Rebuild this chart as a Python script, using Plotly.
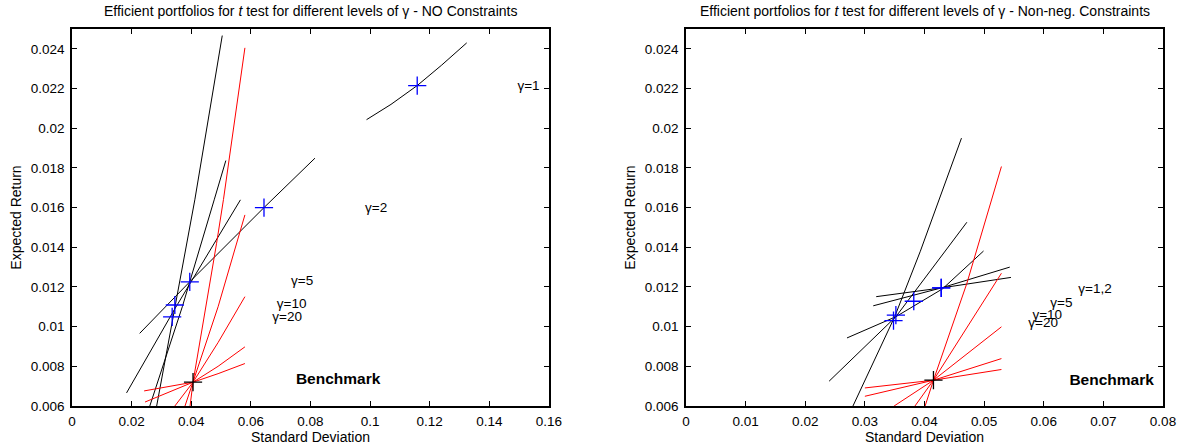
import plotly.graph_objects as go
from plotly.subplots import make_subplots

# ---------------- Left panel: NO constraints ----------------
# black frontier segments (sigma, mu)
L_black_g1_x = [0.0988, 0.1070, 0.1158, 0.1240, 0.1324]
L_black_g1_y = [0.02043, 0.02120, 0.02215, 0.02318, 0.02430]
L_black_a_x = [0.0227, 0.0395, 0.0644, 0.0815]
L_black_a_y = [0.00966, 0.01226, 0.01600, 0.01849]
L_black_b_x = [0.0183, 0.0345, 0.0565]
L_black_b_y = [0.00666, 0.01090, 0.01639]
L_black_c_x = [0.0261, 0.0370, 0.0477, 0.0516]
L_black_c_y = [0.00600, 0.01100, 0.01639, 0.01837]
L_black_d_x = [0.0284, 0.0345, 0.0412, 0.0504]
L_black_d_y = [0.00600, 0.01100, 0.01639, 0.02467]

# red segments through the benchmark
L_red_1_x = [0.0396, 0.0406, 0.0485, 0.0508, 0.0580]
L_red_1_y = [0.00600, 0.00720, 0.01420, 0.01640, 0.02405]
L_red_2_x = [0.0379, 0.0406, 0.0490, 0.0580]
L_red_2_y = [0.00600, 0.00720, 0.01100, 0.01563]
L_red_3_x = [0.0345, 0.0406, 0.0490, 0.0580]
L_red_3_y = [0.00600, 0.00720, 0.00920, 0.01151]
L_red_4_x = [0.0245, 0.0406, 0.0490, 0.0580]
L_red_4_y = [0.00620, 0.00720, 0.00800, 0.00898]
L_red_5_x = [0.0242, 0.0406, 0.0490, 0.0580]
L_red_5_y = [0.00676, 0.00720, 0.00763, 0.00814]

L_opt_x = [0.1158, 0.0644, 0.0395, 0.0345, 0.0336]
L_opt_y = [0.02215, 0.01600, 0.01226, 0.01109, 0.01049]
L_lab_text = ["γ=1", "γ=2", "γ=5", "γ=10", "γ=20"]
L_lab_x = [0.1494, 0.0983, 0.0735, 0.0687, 0.0672]
L_lab_y = [0.02208, 0.01597, 0.01226, 0.01112, 0.01046]
L_bench_x = [0.0406]
L_bench_y = [0.0072]
L_bench_lab_x = 0.0751
L_bench_lab_y = 0.0073

# ---------------- Right panel: non-negativity ----------------
R_black_a_x = [0.0280, 0.0350, 0.0393, 0.0462]
R_black_a_y = [0.00600, 0.01050, 0.01380, 0.01950]
R_black_b_x = [0.0240, 0.0352, 0.0471]
R_black_b_y = [0.00725, 0.01050, 0.01526]
R_black_c_x = [0.0270, 0.0352, 0.0430, 0.0499]
R_black_c_y = [0.00943, 0.01050, 0.01190, 0.01381]
R_black_d_x = [0.0314, 0.0428, 0.0543]
R_black_d_y = [0.01105, 0.01195, 0.01300]
R_black_e_x = [0.0319, 0.0428, 0.0545]
R_black_e_y = [0.01151, 0.01195, 0.01248]

R_red_1_x = [0.0401, 0.0415, 0.0471, 0.0529]
R_red_1_y = [0.00600, 0.00730, 0.01218, 0.01807]
R_red_2_x = [0.0384, 0.0415, 0.0529]
R_red_2_y = [0.00600, 0.00730, 0.01269]
R_red_3_x = [0.0349, 0.0415, 0.0529]
R_red_3_y = [0.00600, 0.00730, 0.00999]
R_red_4_x = [0.0300, 0.0415, 0.0529]
R_red_4_y = [0.00649, 0.00730, 0.00839]
R_red_5_x = [0.0300, 0.0415, 0.0529]
R_red_5_y = [0.00691, 0.00730, 0.00784]

R_opt_x = [0.0428, 0.0428, 0.0382, 0.0352, 0.0348]
R_opt_y = [0.01195, 0.01195, 0.01128, 0.01058, 0.01030]
R_lab_text = ["γ=1,2", "γ=5", "γ=10", "γ=20"]
R_lab_x = [0.0658, 0.0611, 0.0581, 0.0574]
R_lab_y = [0.01184, 0.01117, 0.01053, 0.01013]
R_bench_x = [0.0415]
R_bench_y = [0.0073]
R_bench_lab_x = 0.0643
R_bench_lab_y = 0.00725

y_ticks = [0.006, 0.008, 0.010, 0.012, 0.014, 0.016, 0.018, 0.020, 0.022, 0.024]
y_ticktext = ["0.006", "0.008", "0.01", "0.012", "0.014", "0.016", "0.018", "0.02", "0.022", "0.024"]
xL_ticks = [0, 0.02, 0.04, 0.06, 0.08, 0.10, 0.12, 0.14, 0.16]
xL_ticktext = ["0", "0.02", "0.04", "0.06", "0.08", "0.1", "0.12", "0.14", "0.16"]
xR_ticks = [0, 0.01, 0.02, 0.03, 0.04, 0.05, 0.06, 0.07, 0.08]
xR_ticktext = ["0", "0.01", "0.02", "0.03", "0.04", "0.05", "0.06", "0.07", "0.08"]

title_L = "Efficient portfolios for <i>t</i> test for different levels of γ - NO Constraints"
title_R = "Efficient portfolios for <i>t</i> test for different levels of γ - Non-neg. Constraints"

FONT = "Liberation Sans, Arial, Helvetica, sans-serif"
TICK_SIZE = 13.5
LABEL_SIZE = 14
TITLE_SIZE = 14
TEXT_SIZE = 13.5
BENCH_SIZE = 15.5

fig = make_subplots(rows=1, cols=2, horizontal_spacing=0.1256)


def line(x, y, color, col):
    fig.add_trace(go.Scatter(x=x, y=y, mode="lines", line=dict(color=color, width=1),
                             showlegend=False, hoverinfo="skip"), row=1, col=col)


for xs, ys in [(L_black_g1_x, L_black_g1_y), (L_black_a_x, L_black_a_y), (L_black_b_x, L_black_b_y),
               (L_black_c_x, L_black_c_y), (L_black_d_x, L_black_d_y)]:
    line(xs, ys, "black", 1)
for xs, ys in [(L_red_1_x, L_red_1_y), (L_red_2_x, L_red_2_y), (L_red_3_x, L_red_3_y),
               (L_red_4_x, L_red_4_y), (L_red_5_x, L_red_5_y)]:
    line(xs, ys, "red", 1)
for xs, ys in [(R_black_a_x, R_black_a_y), (R_black_b_x, R_black_b_y), (R_black_c_x, R_black_c_y),
               (R_black_d_x, R_black_d_y), (R_black_e_x, R_black_e_y)]:
    line(xs, ys, "black", 2)
for xs, ys in [(R_red_1_x, R_red_1_y), (R_red_2_x, R_red_2_y), (R_red_3_x, R_red_3_y),
               (R_red_4_x, R_red_4_y), (R_red_5_x, R_red_5_y)]:
    line(xs, ys, "red", 2)

for col, ox, oy, bx, by in [(1, L_opt_x, L_opt_y, L_bench_x, L_bench_y),
                            (2, R_opt_x, R_opt_y, R_bench_x, R_bench_y)]:
    fig.add_trace(go.Scatter(x=ox, y=oy, mode="markers",
                             marker=dict(symbol="cross-thin-open", size=13, color="blue",
                                         line=dict(color="blue", width=1.3)),
                             showlegend=False, hoverinfo="skip"), row=1, col=col)
    fig.add_trace(go.Scatter(x=bx, y=by, mode="markers",
                             marker=dict(symbol="cross-thin-open", size=13, color="black",
                                         line=dict(color="black", width=1.3)),
                             showlegend=False, hoverinfo="skip"), row=1, col=col)

for col, texts, xs, ys in [(1, L_lab_text, L_lab_x, L_lab_y), (2, R_lab_text, R_lab_x, R_lab_y)]:
    fig.add_trace(go.Scatter(x=xs, y=ys, mode="text", text=texts, textposition="middle right",
                             textfont=dict(family=FONT, size=TEXT_SIZE, color="black"),
                             showlegend=False, hoverinfo="skip"), row=1, col=col)

fig.add_trace(go.Scatter(x=[L_bench_lab_x], y=[L_bench_lab_y], mode="text", text=["<b>Benchmark</b>"],
                         textposition="middle right", textfont=dict(family=FONT, size=BENCH_SIZE, color="black"),
                         showlegend=False, hoverinfo="skip"), row=1, col=1)
fig.add_trace(go.Scatter(x=[R_bench_lab_x], y=[R_bench_lab_y], mode="text", text=["<b>Benchmark</b>"],
                         textposition="middle right", textfont=dict(family=FONT, size=BENCH_SIZE, color="black"),
                         showlegend=False, hoverinfo="skip"), row=1, col=2)

axis_common = dict(showline=True, linecolor="black", linewidth=1.5, mirror="allticks",
                   ticks="inside", ticklen=5, tickcolor="black", tickwidth=1,
                   showgrid=False, zeroline=False, automargin=False,
                   tickfont=dict(family=FONT, size=TICK_SIZE, color="black"))

fig.update_xaxes(range=[0, 0.16], tickvals=xL_ticks, ticktext=xL_ticktext, ticklabelstandoff=2,
                 title=dict(text="Standard Deviation", font=dict(family=FONT, size=LABEL_SIZE, color="black"), standoff=4),
                 row=1, col=1, **axis_common)
fig.update_xaxes(range=[0, 0.08], tickvals=xR_ticks, ticktext=xR_ticktext, ticklabelstandoff=2,
                 title=dict(text="Standard Deviation", font=dict(family=FONT, size=LABEL_SIZE, color="black"), standoff=4),
                 row=1, col=2, **axis_common)
for c in (1, 2):
    fig.update_yaxes(range=[0.006, 0.025], tickvals=y_ticks, ticktext=y_ticktext, ticklabelstandoff=3,
                     title=dict(text="Expected Return", font=dict(family=FONT, size=LABEL_SIZE, color="black"), standoff=6),
                     row=1, col=c, **axis_common)

fig.update_layout(
    width=1184, height=447,
    margin=dict(l=72, r=21, t=29, b=41),
    paper_bgcolor="white", plot_bgcolor="white",
    font=dict(family=FONT, size=12, color="black"),
    annotations=[
        dict(text=title_L, xref="x domain", yref="paper", x=0.5, y=1, yshift=8, yanchor="bottom",
             showarrow=False, font=dict(family=FONT, size=TITLE_SIZE, color="black")),
        dict(text=title_R, xref="x2 domain", yref="paper", x=0.5, y=1, yshift=8, yanchor="bottom",
             showarrow=False, font=dict(family=FONT, size=TITLE_SIZE, color="black")),
    ],
)

fig.write_html("out.html")
